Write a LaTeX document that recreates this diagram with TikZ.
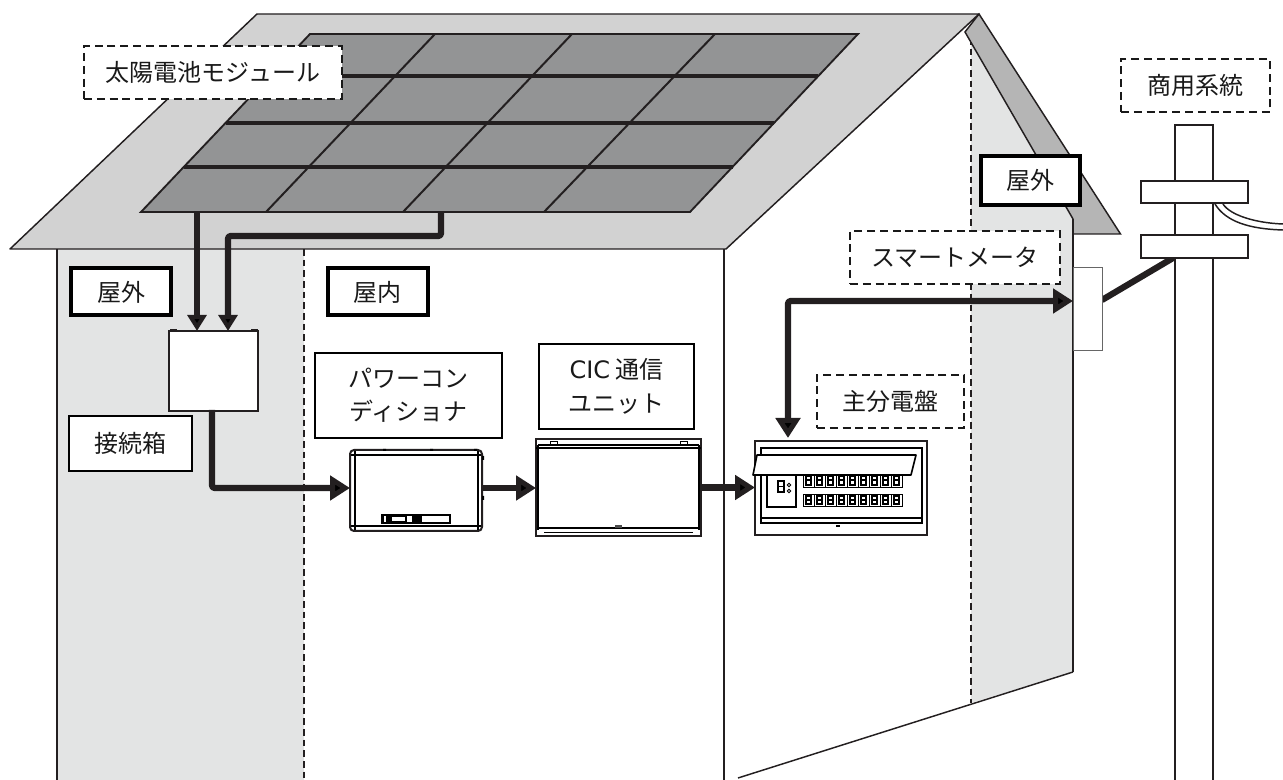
\documentclass[tikz,border=0pt]{standalone}
\usepackage{fontspec}
\usetikzlibrary{arrows.meta}
\setmainfont{Noto Sans CJK JP}
\newfontfamily\latinf{DejaVu Sans}
\definecolor{roofc}{HTML}{D2D2D2}
\definecolor{wallc}{HTML}{E3E4E4}
\definecolor{stripc}{HTML}{B5B5B5}
\definecolor{panelc}{HTML}{939495}
\definecolor{inkc}{HTML}{231F20}
\tikzset{
 wh/.style 2 args={minimum width=#1*0.75pt,minimum height=#2*0.75pt},
 outline/.style={draw=inkc,line width=1.1pt},
 thinline/.style={draw=inkc,line width=1pt},
 cell/.style={draw=inkc,line width=2.5pt},
 wire/.style={draw=inkc,line width=4.7pt,line join=round},
 arrowwire/.style={wire,-{Triangle[length=15pt,width=18pt,fill=black]}},
 smallarrow/.style={wire,-{Triangle[length=12pt,width=14pt,fill=black]}},
 bothwire/.style={wire,{Triangle[length=15pt,width=18pt,fill=black]}-{Triangle[length=15pt,width=18pt,fill=black]}},
 lbl/.style={fill=white,inner sep=0pt,outer sep=0pt,font=\fontsize{18}{25}\selectfont,align=center,text=black!90},
 dashbox/.style={lbl,draw=black!90,line width=1.3pt,dash pattern=on 6pt off 3.6pt},
 thickbox/.style={lbl,draw=black,line width=3pt},
 plainbox/.style={lbl,draw=black,line width=1.3pt},
 device/.style={fill=white,draw=inkc,inner sep=0pt,outer sep=0pt},
 devline/.style={draw=black,line width=1pt},
}
\begin{document}
\begin{tikzpicture}[x=0.75pt,y=-0.75pt]
\useasboundingbox (0,0) rectangle (1283,780);
% coordinates
\coordinate (pvA) at (197,212);
\coordinate (pvB) at (441,212);
\coordinate (bendB) at (228,236);
\coordinate (jbOut) at (212,410);
\coordinate (pcsIn) at (350,488);
\coordinate (boardIn) at (788,438);
\coordinate (meterIn) at (1073,301);
\coordinate (meterOut) at (1102,300);
\coordinate (poleIn) at (1173,258);
% walls
\fill[wallc] (57,249) rectangle (304,780);
\fill[wallc] (965,32) -- (1073,218) -- (1073,672) -- (971,703) -- (971,32) -- cycle;
\draw[outline] (57,249) -- (57,780);
\draw[outline] (724,249) -- (724,780);
\draw[outline] (738,778) -- (1073,672);
\draw[thinline,dash pattern=on 5pt off 3pt] (304,249) -- (304,780);
\draw[thinline,dash pattern=on 5pt off 3pt] (971,38) -- (971,703);
% right roof strip
\filldraw[fill=stripc,outline] (979,14) -- (1120.5,234) -- (1073,234) -- (1073,219) -- (965,32) -- cycle;
\draw[outline] (1073,219) -- (1073,672);
% roof
\filldraw[fill=roofc,outline,line join=round] (10,249) -- (257,14) -- (979,14) -- (726,249) -- cycle;
% solar panels
\filldraw[fill=panelc,draw=inkc,line width=1.4pt] (141,212) -- (310,34) -- (858,34) -- (690,212) -- cycle;
\foreach \y/\xa/\xb in {76/270/818,123/226/774,167/184/733}
  \draw[cell] (\xa,\y) -- (\xb,\y);
\foreach \xa/\xb in {266/435,403/572,544/715}
  \draw[draw=inkc,line width=1.5pt] (\xa,212) -- (\xb,34);
% pole
\fill[white] (1175,125) rectangle (1213,780);
\draw[outline] (1175,780) -- (1175,125) -- (1213,125) -- (1213,780);
\draw[outline] (1215,204) .. controls (1226,222) and (1250,229) .. (1283,230);
\draw[outline] (1223,204) .. controls (1230,215) and (1255,223) .. (1283,224);
\draw[wire] (meterOut) -- (poleIn);
\node[device,line width=1.3pt,wh={107}{22}] (arm1) at (1194.5,192) {};
\node[device,line width=1.3pt,wh={107}{23}] (arm2) at (1194.5,246.5) {};
% junction box
\node[device,line width=1.2pt,wh={89}{80}] (jb) at (213.5,371) {};
\fill[inkc] (170,329) rectangle (177,331.5);
\fill[inkc] (251,329) rectangle (258,331.5);
% power conditioner
\node[device,line width=1.5pt,rounded corners=3pt,wh={132}{81}] (pcs) at (416,490.5) {};
\draw[devline] (355,451) -- (355,530) (478,451) -- (478,530) (351,455) -- (481,455) (351,526) -- (481,526);
\fill[black] (381,514) rectangle (451,524);
\fill[white] (384,516) rectangle (386,522);
\fill[white] (392,517) rectangle (405,521);
\fill[white] (407,516) rectangle (412,522);
\fill[white] (422,516) rectangle (449,522);
\fill[black] (383,449) rectangle (386,451) (430,449) rectangle (433,451) (474,449) rectangle (477,451) (482,456) rectangle (484,460) (482,496) rectangle (484,500);
% CIC unit
\node[device,line width=1.4pt,wh={165}{97}] (cic) at (618.5,487.5) {};
\draw[black,line width=2pt] (538,445) -- (699,445) (538,445) -- (538,530) (699,445) -- (699,530);
\draw[devline] (536,448) -- (701,448) (538,528) -- (699,528) (544,532.5) -- (693,532.5);
\draw[black,line width=.6pt] (550,441) rectangle (557,445) (680,441) rectangle (687,445);
\fill[black!70] (615,525) rectangle (622,528);
% distribution board
\node[device,line width=1.4pt,wh={172}{94}] (board) at (841,488) {};
\draw[devline] (761,448) rectangle (922,523);
\draw[devline] (761,518) -- (922,518);
\draw[devline] (767,475) rectangle (796,507);
\draw[black,line width=1pt] (778,481) rectangle (784,492) (778,486.5) -- (784,486.5);
\draw[black,line width=.6pt] (789,485) circle (1.7) (789,491) circle (1.7);
\foreach \i in {0,...,8} {
  \draw[black,line width=.5pt] (803+\i*11,475) rectangle (814+\i*11,487);
  \draw[devline] (806+\i*11,476) rectangle (811+\i*11,485) (806+\i*11,480) -- (811+\i*11,480);
  \draw[black,line width=.5pt] (803+\i*11,494) rectangle (814+\i*11,506);
  \draw[devline] (806+\i*11,496) rectangle (811+\i*11,504) (806+\i*11,500) -- (811+\i*11,500);
}
\filldraw[fill=white,draw=black,line width=1.2pt,line join=round] (753,475) -- (757,455) -- (916,455) -- (911,475) -- cycle;
\fill[black] (836,525) rectangle (840,527);
% smart meter
\node[fill=white,draw=black!60,line width=0.7pt,inner sep=0pt,outer sep=0pt,wh={29}{83}] (meter) at (1087.5,308.5) {};
% wires
\draw[smallarrow] (pvA) -- (pvA |- jb.north);
\draw[smallarrow,rounded corners=2pt] (pvB) |- (bendB) -- (bendB |- jb.north);
\draw[arrowwire,rounded corners=2pt] (jbOut) |- (pcsIn);
\draw[arrowwire] (pcs.east |- pcsIn) -- (cic.west |- pcsIn);
\draw[arrowwire] (cic.east) -- (board.west |- cic.east);
\draw[bothwire,rounded corners=2pt] (boardIn) |- (meterIn);
% labels
\node[dashbox,wh={258}{53}] (lmod) at (213,72.5) {太陽電池モジュール};
\node[thickbox,wh={100}{47}] (lout1) at (121,292) {屋外};
\node[thickbox,wh={100}{47}] (lin) at (377.5,292) {屋内};
\node[plainbox,wh={187}{85}] (lpcs) at (408.5,395.5) {パワーコン\\ディショナ};
\node[plainbox,wh={155}{85}] (lcic) at (616.5,386.5) {{\latinf CIC} 通信\\ユニット};
\node[plainbox,wh={123}{55}] (ljb) at (130.5,443.5) {接続箱};
\node[dashbox,wh={147}{53}] (lboard) at (890.5,401.5) {主分電盤};
\node[dashbox,wh={210}{53}] (lmeter) at (955,257.5) {スマートメータ};
\node[thickbox,wh={99}{49}] (lout2) at (1030,180.5) {屋外};
\node[dashbox,wh={149}{53}] (lgrid) at (1195.5,85.5) {商用系統};
\end{tikzpicture}
\end{document}
